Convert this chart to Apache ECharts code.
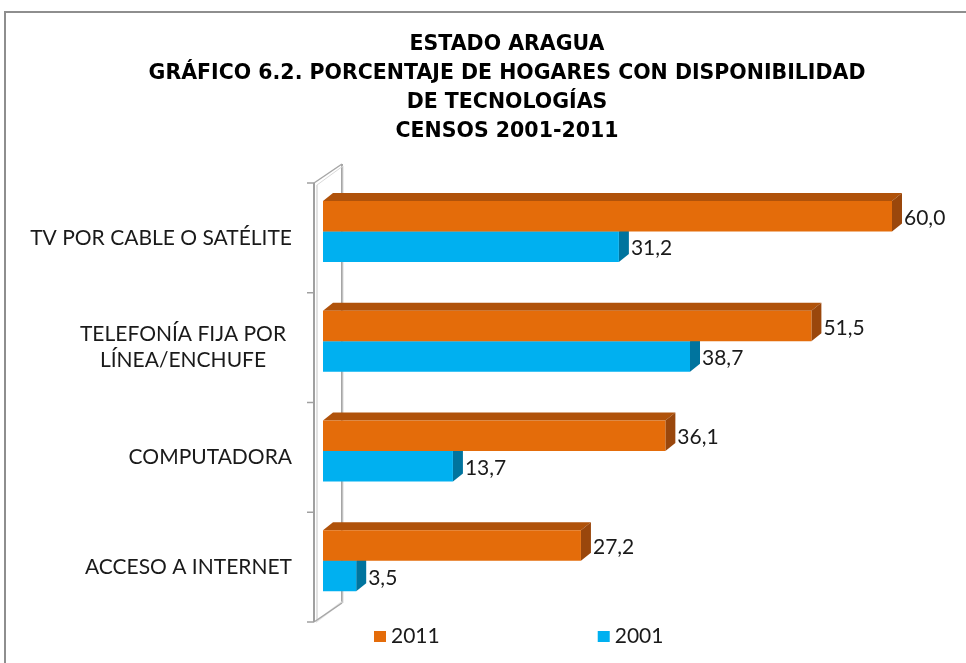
<!DOCTYPE html>
<html><head><meta charset="utf-8">
<script src="https://cdn.jsdelivr.net/npm/echarts@6/dist/echarts.min.js"></script>
<style>html,body{margin:0;padding:0;background:#fff}#c{width:966px;height:663px}</style>
</head><body><div id="c"></div>
<script>
const categories = ['TV POR CABLE O SATÉLITE', 'TELEFONÍA FIJA POR\nLÍNEA/ENCHUFE', 'COMPUTADORA', 'ACCESO A INTERNET'];
const values2011 = [60.0, 51.5, 36.1, 27.2];
const values2001 = [31.2, 38.7, 13.7, 3.5];
const seriesNames = ['2011', '2001'];
const titleLines = ['ESTADO ARAGUA', 'GRÁFICO 6.2. PORCENTAJE DE HOGARES CON DISPONIBILIDAD', 'DE TECNOLOGÍAS', 'CENSOS 2001-2011'];

const DX = 10, DY = 8, SHIFT_Y = -6.5, BAR_H = 30.5;
const LABEL_FONT = 'Lato';
const LABEL_SIZE = 21;

function makeRender(pos, front, top, side) {
  return function (params, api) {
    const cat = api.value(0);
    const val = api.value(1);
    const p0 = api.coord([0, cat]);
    const p1 = api.coord([val, cat]);
    const cy = p0[1] + SHIFT_Y;
    const y0 = pos === 0 ? cy - BAR_H : cy;
    const y1 = y0 + BAR_H;
    const x0 = p0[0], x1 = p1[0];
    return {
      type: 'group',
      children: [
        { type: 'polygon', shape: { points: [[x0, y0], [x0 + DX, y0 - DY], [x1 + DX, y0 - DY], [x1, y0]] }, style: { fill: top } },
        { type: 'polygon', shape: { points: [[x1, y0], [x1 + DX, y0 - DY], [x1 + DX, y1 - DY], [x1, y1]] }, style: { fill: side } },
        { type: 'rect', shape: { x: x0, y: y0, width: x1 - x0, height: BAR_H }, style: { fill: front } },
        { type: 'text', x: x1 + DX + 2, y: (y0 + y1) / 2 + 2,
          style: { text: val.toFixed(1).replace('.', ','), fill: '#1a1a1a', font: LABEL_SIZE + 'px "' + LABEL_FONT + '"', verticalAlign: 'middle', align: 'left' } }
      ]
    };
  };
}

function wallRender(params, api) {
  const cs = params.coordSys;
  const fx = cs.x - 9, top = cs.y, bot = cs.y + cs.height;
  const bx = fx + 28, by = -19;
  const children = [];
  const line = (pts, w, c) => children.push({ type: 'polyline', shape: { points: pts }, style: { stroke: c, lineWidth: w, fill: null } });
  line([[bx, top + by], [bx, bot + by]], 2, '#A6A6A6');
  line([[fx + 3, top + 2], [bx + 1, top + by + 2], [bx + 1, bot + by]], 1, '#DADADA');
  line([[fx + 3, top + 2], [fx + 3, bot - 1], [bx, bot + by - 1]], 2, '#E2E2E2');
  line([[fx, top], [bx, top + by]], 1.5, '#A6A6A6');
  line([[fx, bot], [bx, bot + by]], 1.5, '#A6A6A6');
  line([[fx, top], [fx, bot]], 2, '#A0A0A0');
  const n = categories.length;
  for (let i = 0; i <= n; i++) {
    const y = top + cs.height * i / n;
    line([[fx - 7, y], [fx, y]], 1.5, '#A0A0A0');
  }
  return { type: 'group', children };
}

const chart = echarts.init(document.getElementById('c'));
chart.setOption({
  animation: false,
  backgroundColor: '#fff',
  graphic: [{ type: 'rect', shape: { x: 5, y: 12, width: 1000, height: 700 }, style: { fill: null, stroke: '#8E8E8E', lineWidth: 2 }, z: 100 }],
  title: {
    text: titleLines.join('\n'),
    left: 507, textAlign: 'center', top: 30, padding: 0,
    textStyle: { fontFamily: 'DejaVu Sans', fontWeight: 'bold', fontSize: 20.5, lineHeight: 29, color: '#000' }
  },
  legend: {
    data: seriesNames,
    left: 369, top: 621,
    itemWidth: 12, itemHeight: 11, itemGap: 158,
    icon: 'rect',
    textStyle: { fontFamily: LABEL_FONT, fontSize: LABEL_SIZE, color: '#1a1a1a' }
  },
  grid: { left: 323, right: 74, top: 183, bottom: 41 },
  xAxis: { type: 'value', min: 0, max: 60, show: false },
  yAxis: {
    type: 'category', data: categories, inverse: true,
    axisLine: { show: false }, axisTick: { show: false },
    axisLabel: {
      margin: 31, color: '#1a1a1a', fontFamily: LABEL_FONT, fontSize: LABEL_SIZE, lineHeight: 26,
      formatter: v => v.includes('\n') ? v.split('\n').map(s => '{c|' + s + '}').join('\n') : v,
      rich: { c: { width: 218, align: 'center', fontFamily: LABEL_FONT, fontSize: LABEL_SIZE, lineHeight: 26, color: '#1a1a1a' } }
    }
  },
  series: [
    { type: 'custom', name: 'wall', renderItem: wallRender, data: [[0, 0]], encode: { y: 0, x: 1 }, silent: true, z: 1 },
    { type: 'custom', name: seriesNames[1], renderItem: makeRender(1, '#00B0F0', '#0090C4', '#00749E'),
      data: values2001.map((v, i) => [i, v]), encode: { y: 0, x: 1 }, itemStyle: { color: '#00B0F0' }, z: 2 },
    { type: 'custom', name: seriesNames[0], renderItem: makeRender(0, '#E46C0A', '#B0520A', '#9A470C'),
      data: values2011.map((v, i) => [i, v]), encode: { y: 0, x: 1 }, itemStyle: { color: '#E46C0A' }, z: 3 }
  ]
});
</script>
</body></html>
